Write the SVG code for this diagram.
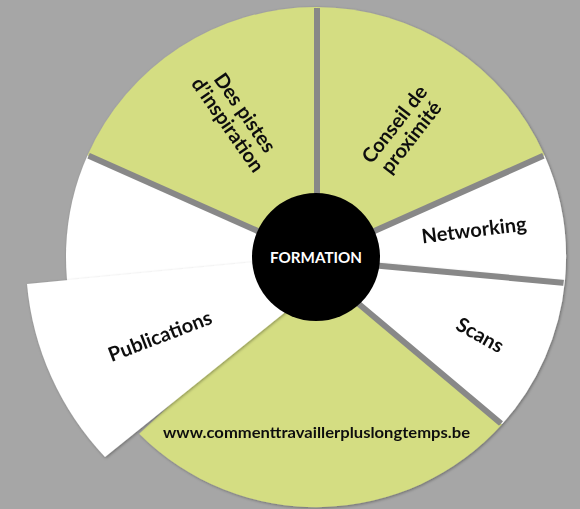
<svg xmlns="http://www.w3.org/2000/svg" width="580" height="509" viewBox="0 0 580 509">
<style>
.g{fill:#d4dd82}
.w{fill:#ffffff}
.lbl{font-family:Lato,"Open Sans","Liberation Sans",sans-serif;font-weight:700;font-size:20px;fill:#111;text-anchor:middle}
.url{font-family:Lato,"Open Sans","Liberation Sans",sans-serif;font-weight:700;font-size:16px;fill:#111;text-anchor:middle}
.ctr{font-family:Lato,"Open Sans","Liberation Sans",sans-serif;font-weight:700;font-size:15px;fill:#fff;text-anchor:middle}
.sep{stroke:#888888;stroke-width:6;fill:none}
</style>
<defs>
<filter id="sh" x="-10%" y="-10%" width="120%" height="120%">
<feDropShadow dx="1" dy="1" stdDeviation="1.6" flood-color="#000" flood-opacity="0.35"/>
</filter>
<clipPath id="disk"><circle cx="316" cy="257" r="249"/></clipPath>
</defs>
<rect x="0" y="0" width="580" height="509" fill="#a6a6a6"/>
<g id="wedge-bottom" filter="url(#sh)">
<path class="g" d="M316,268 L502,424.3 A250,250 0 0 1 139.2,433.8 Z"/>
<text class="url" x="316.5" y="438" textLength="307" lengthAdjust="spacingAndGlyphs">www.commenttravaillerpluslongtemps.be</text>
</g>
<g id="wedge-left" filter="url(#sh)">
<path class="w" d="M316,257 L81.1,342.5 A250,250 0 0 1 87.6,155.3 Z"/>
</g>
<g id="wedge-publications" filter="url(#sh)">
<path class="w" d="M360,252 L27,284 A290,290 0 0 0 105,457 Z"/>
<text class="lbl" transform="translate(160,336) rotate(-21)" x="0" y="7">Publications</text>
</g>
<g id="wedge-des-pistes" filter="url(#sh)">
<path class="g" d="M316,257 L87.6,155.3 A250,250 0 0 1 316,7 Z"/>
<text class="lbl" transform="translate(236,119) rotate(55)"><tspan x="0" y="-4">Des pistes</tspan><tspan x="0" y="17">d’inspiration</tspan></text>
</g>
<g id="wedge-conseil" filter="url(#sh)">
<path class="g" d="M316,257 L316,7 A250,250 0 0 1 544.4,155.3 Z"/>
<text class="lbl" transform="translate(403,131) rotate(-52)"><tspan x="0" y="-4">Conseil de</tspan><tspan x="0" y="17">proximité</tspan></text>
</g>
<g id="wedge-networking" filter="url(#sh)">
<path class="w" d="M316,257 L544.4,155.3 A250,250 0 0 1 564.9,281 Z"/>
<text class="lbl" transform="translate(474,230) rotate(-7)" x="0" y="7">Networking</text>
</g>
<g id="wedge-scans" filter="url(#sh)">
<path class="w" d="M316,257 L564.9,281 A250,250 0 0 1 502,424.3 L316,268 Z"/>
<text class="lbl" transform="translate(480,335) rotate(29)" x="0" y="7">Scans</text>
</g>
<g id="connectors" clip-path="url(#disk)">
<line class="sep" x1="316" y1="257" x2="87.6" y2="155.3"/>
<line class="sep" x1="317" y1="257" x2="317" y2="0"/>
<line class="sep" x1="316" y1="257" x2="544.4" y2="155.3"/>
<line class="sep" x1="316" y1="260" x2="566" y2="283"/>
<line class="sep" x1="316" y1="268" x2="504" y2="426"/>
</g>
<g id="center">
<circle cx="316" cy="257" r="64" fill="#000"/>
<text class="ctr" x="316" y="262.5" textLength="92" lengthAdjust="spacingAndGlyphs">FORMATION</text>
</g>
</svg>
